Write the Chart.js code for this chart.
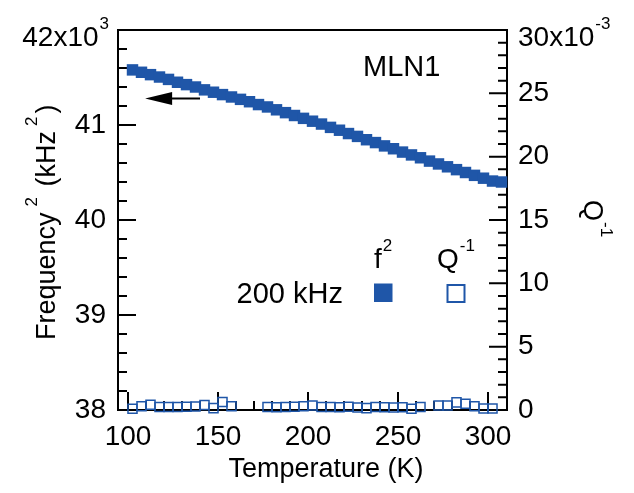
<!DOCTYPE html>
<html><head><meta charset="utf-8">
<script src="https://cdn.jsdelivr.net/npm/chart.js@4.4.1/dist/chart.umd.min.js"></script>
<style>html,body{margin:0;padding:0;background:#fff;overflow:hidden}#wrap{width:634px;height:493px}</style>
</head><body><div id="wrap"><canvas id="c" width="634" height="493"></canvas></div>
<script>
// ---- data ----
const temperatureK = [102.5,107.5,112.5,117.5,122.5,127.5,132.5,137.5,142.5,147.5,152.5,157.5,162.5,167.5,172.5,177.5,182.5,187.5,192.5,197.5,202.5,207.5,212.5,217.5,222.5,227.5,232.5,237.5,242.5,247.5,252.5,257.5,262.5,267.5,272.5,277.5,282.5,287.5,292.5,297.5,302.5,307.5];
const freqSquared = [41.58,41.555,41.53,41.505,41.48,41.45,41.425,41.40,41.37,41.345,41.32,41.295,41.27,41.245,41.215,41.19,41.16,41.13,41.10,41.07,41.04,41.01,40.975,40.945,40.91,40.88,40.845,40.815,40.78,40.75,40.715,40.685,40.655,40.62,40.59,40.56,40.53,40.50,40.47,40.44,40.41,40.40]; // x10^3 kHz^2
const qInverse = [0.10,0.29,0.41,0.24,0.24,0.24,0.25,0.27,0.40,0.15,0.63,0.30,null,null,null,0.24,0.22,0.24,0.26,0.30,0.35,0.24,0.24,0.22,0.25,0.20,0.15,0.24,0.22,0.20,0.22,0.10,0.24,null,0.35,0.35,0.60,0.50,0.30,0.12,0.12,null]; // x10^-3
const xTickValues = [100,150,200,250,300];
const leftTickValues = [38,39,40,41,42];
const rightTickValues = [0,5,10,15,20,25,30];

const BLUE = '#1f56a8';
const FAM = '"Liberation Sans", Arial, Helvetica, sans-serif';
const TICK_FS = 28;
const f = s => s + 'px ' + FAM;

// parts: [text, isSup, gapBefore, gapAfter]
function rich(ctx, parts, x, y, align, fs, sup, raise) {
  let w = 0; const ws = [];
  parts.forEach(([t, s, g0 = 0, g1 = 0]) => { ctx.font = f(s ? sup : fs); const m = ctx.measureText(t).width; ws.push(m); w += m + g0 + g1; });
  let cx = align === 'right' ? x - w : align === 'center' ? x - w / 2 : x;
  ctx.textAlign = 'left'; ctx.textBaseline = 'alphabetic'; ctx.fillStyle = '#000';
  parts.forEach(([t, s, g0 = 0, g1 = 0], i) => { cx += g0; ctx.font = f(s ? sup : fs); ctx.fillText(t, cx, s ? y - raise : y); cx += ws[i] + g1; });
}

const decor = {
  id: 'decor',
  beforeDatasetsDraw(chart) {
    const { ctx, chartArea: a, scales } = chart;
    ctx.save();
    ctx.strokeStyle = '#000'; ctx.lineWidth = 2; ctx.lineCap = 'butt';
    ctx.beginPath();
    for (let i = 0; i <= 20; i++) {
      const p = scales.y.getPixelForValue(38 + i * 0.2);
      ctx.moveTo(a.left, p); ctx.lineTo(a.left + (i % 5 === 0 ? 18 : 9), p);
    }
    for (let i = 0; i <= 30; i++) {
      const p = scales.y2.getPixelForValue(i);
      ctx.moveTo(a.right, p); ctx.lineTo(a.right - (i % 5 === 0 ? 18 : 9), p);
    }
    for (let t = 100; t <= 300; t += 10) {
      const p = scales.x.getPixelForValue(t);
      ctx.moveTo(p, a.bottom); ctx.lineTo(p, a.bottom - (t % 50 === 0 ? 18 : 9));
    }
    ctx.stroke();
    ctx.strokeRect(a.left, a.top, a.right - a.left, a.bottom - a.top);
    ctx.restore();
  },
  afterDraw(chart) {
    const { ctx, chartArea: a, scales } = chart;
    ctx.save();
    // top tick labels with exponents
    const y42 = scales.y.getPixelForValue(42);
    rich(ctx, [['42x10', 0], ['3', 1, 1, 0]], a.left - 9, y42 + 16, 'right', TICK_FS, 17, 17);
    const y30 = scales.y2.getPixelForValue(30);
    rich(ctx, [['30x10', 0], ['-3', 1, 1, 0]], a.right + 11, y30 + 16, 'left', TICK_FS, 17, 17);
    // axis titles
    rich(ctx, [['Temperature (K)', 0]], 326, 477, 'center', 27, 17, 17);
    ctx.save(); ctx.translate(55, 340); ctx.rotate(-Math.PI / 2);
    rich(ctx, [['Frequency', 0], ['2', 1, 6, 3], [' (kHz', 0], ['2', 1, 5, 3], [')', 0]], 0, 0, 'left', 27, 17, 18);
    ctx.restore();
    ctx.save(); ctx.translate(584, 200); ctx.rotate(Math.PI / 2);
    rich(ctx, [['Q', 0], ['-1', 1, 1, 0]], 0, 0, 'left', 27, 17, 17);
    ctx.restore();
    // sample label
    rich(ctx, [['MLN1', 0]], 363, 76, 'left', 29, 17, 17);
    // legend
    rich(ctx, [['f', 0], ['2', 1, 1, 0]], 374, 268, 'left', 28, 17, 17);
    rich(ctx, [['Q', 0], ['-1', 1, 1, 0]], 437, 268, 'left', 28, 17, 17);
    rich(ctx, [['200 kHz', 0]], 343, 303, 'right', 29, 17, 17);
    ctx.fillStyle = BLUE; ctx.fillRect(374, 283.5, 18.5, 18.5);
    ctx.strokeStyle = BLUE; ctx.lineWidth = 2; ctx.strokeRect(447.5, 285, 17, 17);
    // arrow pointing to left axis
    const ay = scales.y.getPixelForValue(41.28);
    const tip = scales.x.getPixelForValue(109.5), tail = scales.x.getPixelForValue(140);
    ctx.strokeStyle = '#000'; ctx.lineWidth = 2;
    ctx.beginPath(); ctx.moveTo(tip + 20, ay); ctx.lineTo(tail, ay); ctx.stroke();
    ctx.fillStyle = '#000'; ctx.beginPath();
    ctx.moveTo(tip, ay); ctx.lineTo(tip + 27, ay - 6.5); ctx.lineTo(tip + 27, ay + 6.5); ctx.closePath(); ctx.fill();
    ctx.restore();
  }
};

const fData = temperatureK.map((t, i) => ({ x: t, y: freqSquared[i] }));
const qData = temperatureK.map((t, i) => ({ x: t, y: qInverse[i] })).filter(p => p.y !== null);

new Chart(document.getElementById('c'), {
  type: 'scatter',
  data: { datasets: [
    { label: 'f2', data: fData, yAxisID: 'y', pointStyle: 'rect', pointRadius: 8.1, pointHoverRadius: 8.1,
      backgroundColor: BLUE, borderWidth: 0, showLine: false, clip: false },
    { label: 'Q-1', data: qData, yAxisID: 'y2', pointStyle: 'rect', pointRadius: 6.4, pointHoverRadius: 6.4,
      backgroundColor: 'rgba(255,255,255,0)', borderColor: BLUE, borderWidth: 1.5, showLine: false, clip: false }
  ]},
  options: {
    responsive: false, animation: false, devicePixelRatio: 1,
    layout: { padding: { top: 30, left: 0, right: 0, bottom: 0 } },
    plugins: { legend: { display: false }, tooltip: { enabled: false } },
    scales: {
      x: { type: 'linear', position: 'bottom', min: 94.444, max: 310.556,
        afterBuildTicks: s => { s.ticks = xTickValues.map(v => ({ value: v })); },
        afterFit: s => { s.height = 83; },
        grid: { display: false, drawTicks: false }, border: { display: false },
        ticks: { color: '#000', padding: 10, font: { family: FAM, size: TICK_FS }, maxRotation: 0, autoSkip: false } },
      y: { type: 'linear', position: 'left', min: 38, max: 42,
        afterBuildTicks: s => { s.ticks = leftTickValues.map(v => ({ value: v })); },
        afterFit: s => { s.width = 118; },
        grid: { display: false, drawTicks: false }, border: { display: false },
        ticks: { color: '#000', padding: 12, font: { family: FAM, size: TICK_FS }, callback: v => v === 42 ? '' : String(v) } },
      y2: { type: 'linear', position: 'right', min: 0, max: 30,
        afterBuildTicks: s => { s.ticks = rightTickValues.map(v => ({ value: v })); },
        afterFit: s => { s.width = 127; },
        grid: { display: false, drawTicks: false }, border: { display: false },
        ticks: { color: '#000', padding: 11, font: { family: FAM, size: TICK_FS }, callback: v => v === 30 ? '' : String(v) } }
    }
  },
  plugins: [decor]
});
</script></body></html>
